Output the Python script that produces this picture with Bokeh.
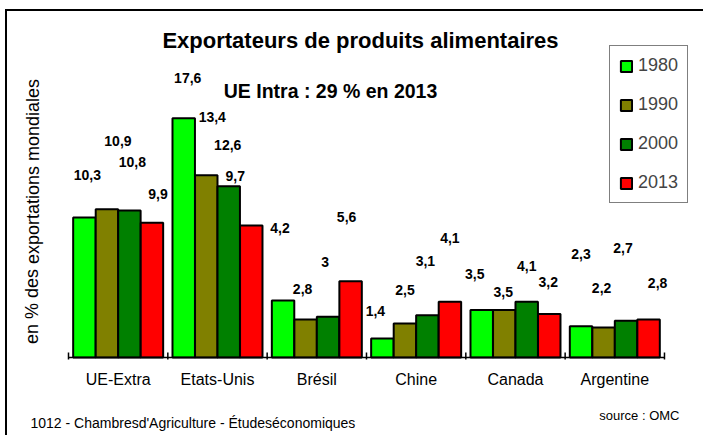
from bokeh.plotting import figure
from bokeh.models import (ColumnDataSource, Range1d, Label, Legend, LegendItem)
from bokeh.core.properties import value
from bokeh.embed import file_html
from bokeh.resources import INLINE

# ---- data ----
categories = ["UE-Extra", "Etats-Unis", "Brésil", "Chine", "Canada", "Argentine"]
years = ["1980", "1990", "2000", "2013"]
v1980 = [10.3, 17.6, 4.2, 1.4, 3.5, 2.3]
v1990 = [10.9, 13.4, 2.8, 2.5, 3.5, 2.2]
v2000 = [10.8, 12.6, 3.0, 3.1, 4.1, 2.7]
v2013 = [9.9, 9.7, 5.6, 4.1, 3.2, 2.8]
series = [v1980, v1990, v2000, v2013]

# ---- styles / label placement (pixels) ----
colors = ["#00FF00", "#808000", "#008000", "#FF0000"]
offsets = [-0.34, -0.113, 0.113, 0.34]
bar_w = 0.226
label_dx = [[3, 4, -3, -7, -7, 0],
            [11, 6, -3, 0, -1, -2],
            [3, -1, -3, -2, 0, -3],
            [6, -16, -4, 0, -1, 9]]
label_dy = [[-42, -40, -72, -27, -36, -72],
            [-68, -58, -30, -34, -18, -40],
            [-49, -41, -55, -54, -36, -73],
            [-29, -50, -64, -64, -32, -36]]

FONT = "Liberation Sans"
W, H = 698, 426
x0_px, base_px = 61, 346        # canvas px of first category boundary / baseline
unit_px = 99.33                 # px per category
px_per_unit = 13.6              # px per % point

p = figure(x_range=Range1d(-x0_px / unit_px, (W - x0_px) / unit_px),
           y_range=Range1d(-(H - base_px) / px_per_unit, base_px / px_per_unit),
           width=W, height=H, output_backend="svg", toolbar_location=None,
           min_border=0, min_border_left=0, min_border_right=0,
           min_border_top=0, min_border_bottom=0)
p.styles = {"margin-left": "5px", "margin-top": "9px",
            "border-top": "2px solid black", "border-left": "2px solid black"}
p.outline_line_color = None
p.xgrid.visible = False
p.ygrid.visible = False
p.xaxis.visible = False
p.yaxis.visible = False

idx = list(range(len(categories)))
renderers = []
for i, (yr, vals) in enumerate(zip(years, series)):
    src = ColumnDataSource(dict(x=[k + 0.5 + offsets[i] for k in idx], val=vals,
                                lab=[("%g" % v).replace(".", ",") for v in vals],
                                dx=label_dx[i], dy=label_dy[i]))
    r = p.vbar(x="x", top="val", width=bar_w, source=src,
               fill_color=colors[i], line_color="black", line_width=2)
    renderers.append(r)
    p.text(x="x", y="val", text="lab", x_offset="dx", y_offset="dy", source=src,
           text_font=value(FONT), text_font_style="bold", text_font_size="14px",
           text_align="center", text_baseline="middle", text_color="black")

# category axis: line, boundary ticks, category labels
p.segment(x0=[0], x1=[len(categories)], y0=[0], y1=[0], line_color="black", line_width=1.5)
bsrc = ColumnDataSource(dict(x=list(range(len(categories) + 1))))
p.segment(x0="x", x1="x", y0=-2 / px_per_unit, y1=5 / px_per_unit, source=bsrc,
          line_color="black", line_width=1.5)
csrc = ColumnDataSource(dict(x=[k + 0.5 for k in idx], y=[0] * len(idx), t=categories))
p.text(x="x", y="y", text="t", y_offset=22, source=csrc,
       text_font=value(FONT), text_font_size="16px",
       text_align="center", text_baseline="middle", text_color="black")

legend = Legend(items=[LegendItem(label=yr, renderers=[r]) for yr, r in zip(years, renderers)],
                location=(602, 234))
legend.label_text_font = FONT
legend.label_text_font_size = "18px"
legend.glyph_width = 14
legend.glyph_height = 14
legend.label_height = 20
legend.spacing = 18
legend.padding = 9
legend.margin = 0
legend.label_standoff = 5
legend.border_line_color = "black"
legend.border_line_width = 1
legend.background_fill_color = "white"
legend.background_fill_alpha = 1
p.add_layout(legend)

def lab(text, x, y, size, bold=False, align="center", angle=0):
    p.add_layout(Label(x=x, y=y, x_units="screen", y_units="screen", text=text,
                       text_font=FONT, text_font_size=size,
                       text_font_style="bold" if bold else "normal",
                       text_align=align, text_baseline="middle", angle=angle,
                       text_color="black"))

lab("Exportateurs de produits alimentaires", 353, 397, "22px", bold=True)
lab("UE Intra : 29 % en 2013", 323, 347, "19.5px", bold=True)
lab("en % des exportations mondiales", 25, 226, "18px", angle=1.5707963)
lab("1012 - Chambresd'Agriculture - Étudeséconomiques", 23, 15, "14px", align="left")
lab("source : OMC", 672, 22, "13px", align="right")

open("out.html", "w").write(file_html(p, INLINE))
